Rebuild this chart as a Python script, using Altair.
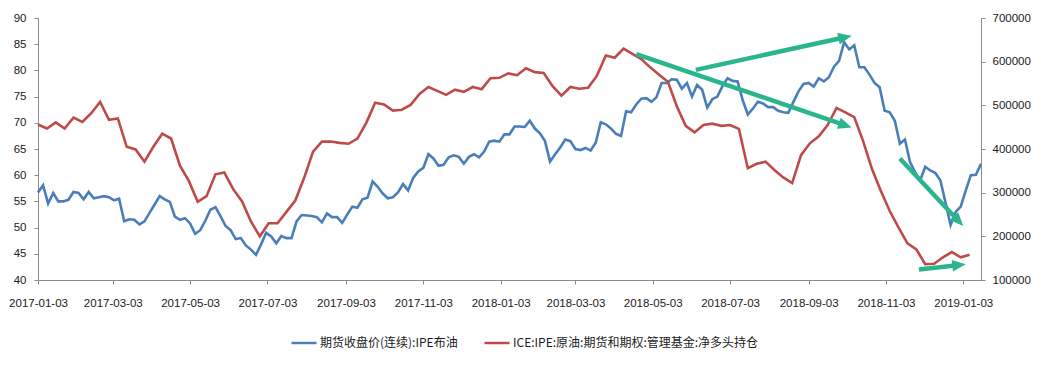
import math
import altair as alt
import pandas as pd

START = "2017-01-03"

# IPE Brent continuous futures close, sampled every 4 days from 2017-01-03
brent_price = [
    56.7, 58.1, 54.6, 56.6, 55.0, 55.0, 55.3, 56.8, 56.6, 55.4,
    56.8, 55.6, 55.8, 56.0, 55.8, 55.2, 55.5, 51.2, 51.6, 51.5,
    50.6, 51.2, 52.8, 54.4, 56.0, 55.4, 54.9, 52.1, 51.5, 51.8,
    50.8, 48.8, 49.5, 51.3, 53.4, 53.9, 52.2, 50.3, 49.5, 47.8,
    48.0, 46.6, 45.8, 44.8, 46.8, 49.0, 48.3, 47.0, 48.4, 48.0,
    48.0, 51.2, 52.4, 52.3, 52.2, 52.0, 51.0, 52.7, 52.0, 52.0,
    50.9, 52.5, 54.0, 53.8, 55.4, 55.7, 58.8, 57.8, 56.5, 55.6,
    55.8, 56.7, 58.3, 57.1, 59.5, 60.7, 61.4, 64.0, 63.2, 61.8,
    62.0, 63.4, 63.8, 63.5, 62.2, 63.5, 64.0, 63.4, 64.5, 66.4,
    66.6, 66.4, 67.8, 67.8, 69.3, 69.3, 69.2, 70.4, 68.9, 68.0,
    66.5, 62.6, 64.0, 65.3, 66.8, 66.5, 65.0, 64.8, 65.2, 64.7,
    66.2, 70.1, 69.7, 68.9, 67.9, 67.5, 72.2, 72.0, 73.5, 74.6,
    74.7, 74.0, 74.9, 77.6, 77.6, 78.3, 78.2, 76.5, 77.6, 75.0,
    77.2, 76.3, 72.9, 74.5, 75.0, 77.0, 78.5, 78.0, 77.9, 74.3,
    71.6, 72.7, 74.0, 73.7, 73.0, 73.0, 72.3, 72.0, 71.9, 74.0,
    76.0, 77.4, 77.6, 76.9, 78.5, 77.9, 78.7, 80.7, 81.8, 85.4,
    84.0, 84.8, 80.6, 80.6, 79.2, 77.6, 76.8, 72.3, 72.0, 70.4,
    66.0, 66.8, 62.5, 60.6, 59.0, 61.6, 60.9, 60.4, 59.0, 54.8,
    50.5, 53.0, 54.0, 57.1, 60.0, 60.1, 62.2,
]

# ICE IPE crude, managed money net long, weekly from 2017-01-03
net_long = [
    456000, 447000, 461000, 447000, 472000, 462000, 482000, 508000, 467000, 470000,
    405000, 399000, 371000, 405000, 435000, 424000, 362000, 327000, 279000, 292000,
    342000, 346000, 308000, 280000, 234000, 200000, 230000, 230000, 256000, 282000,
    334000, 394000, 417000, 417000, 414000, 412000, 424000, 460000, 506000, 502000,
    488000, 490000, 501000, 526000, 542000, 533000, 524000, 536000, 531000, 542000,
    537000, 562000, 563000, 573000, 569000, 585000, 576000, 574000, 544000, 522000,
    542000, 538000, 540000, 568000, 614000, 609000, 630000, 618000, 606000, 587000,
    570000, 554000, 498000, 453000, 438000, 455000, 458000, 453000, 455000, 446000,
    356000, 366000, 371000, 352000, 335000, 322000, 386000, 413000, 429000, 455000,
    494000, 484000, 473000, 418000, 354000, 304000, 258000, 220000, 184000, 170000,
    136000, 137000, 152000, 164000, 152000, 158000,
]

series_names = ["期货收盘价(连续):IPE布油", "ICE:IPE:原油:期货和期权:管理基金:净多头持仓"]
series_colors = ["#4A7EBB", "#BE4B48"]

tick_labels = [
    "2017-01-03", "2017-03-03", "2017-05-03", "2017-07-03", "2017-09-03",
    "2017-11-03", "2018-01-03", "2018-03-03", "2018-05-03", "2018-07-03",
    "2018-09-03", "2018-11-03", "2019-01-03",
]
left_ticks = [40, 45, 50, 55, 60, 65, 70, 75, 80, 85, 90]
right_ticks = [100000, 200000, 300000, 400000, 500000, 600000, 700000]

# annotation arrows (in left-axis units)
arrow_start_dates = ["2018-04-20", "2018-06-06", "2018-11-14", "2018-11-29"]
arrow_start_values = [83.1, 80.1, 63.2, 42.0]
arrow_end_dates = ["2018-10-07", "2018-10-07", "2019-01-03", "2019-01-05"]
arrow_end_values = [69.1, 86.6, 50.3, 43.0]
ARROW_COLOR = "#2BB58C"

W, H = 943, 262

brent_dates = pd.date_range(START, periods=len(brent_price), freq="4D")
pos_dates = pd.date_range(START, periods=len(net_long), freq="7D")

brent_df = pd.DataFrame({"date": brent_dates, "value": brent_price, "series": series_names[0]})
pos_df = pd.DataFrame({"date": pos_dates, "value": net_long, "series": series_names[1]})


def dt(s):
    t = pd.Timestamp(s)
    return alt.DateTime(year=t.year, month=t.month, date=t.day)


x_domain = [dt(brent_dates[0]), dt(brent_dates[-1])]
x_scale = alt.Scale(domain=x_domain, nice=False)
tick_values = [dt(s) for s in tick_labels]

left_domain = [left_ticks[0], left_ticks[-1]]
right_domain = [right_ticks[0], right_ticks[-1]]

# arrow geometry from the data and the scales
span_days = (brent_dates[-1] - brent_dates[0]).days
ppd = W / span_days
ppu = H / (left_domain[1] - left_domain[0])
rows = []
for sd, sv, ed, ev in zip(arrow_start_dates, arrow_start_values, arrow_end_dates, arrow_end_values):
    s = pd.Timestamp(sd)
    e = pd.Timestamp(ed)
    dx = (e - s).days * ppd
    dy = -(ev - sv) * ppu
    L = math.hypot(dx, dy)
    ux, uy = dx / L, dy / L
    ang = math.degrees(math.atan2(ux, -uy)) % 360
    back = 8
    rows.append({
        "s": s, "sv": sv,
        "le": e - pd.Timedelta(days=back * ux / ppd), "lev": ev + back * uy / ppu,
        "tip": e, "tipv": ev, "angle": ang,
    })
arrow_df = pd.DataFrame(rows)

axis_common = dict(
    labelFont="Liberation Sans", labelFontSize=11.5, labelColor="#1a1a1a",
    domainColor="#8C8C8C", tickColor="#8C8C8C", tickSize=4, grid=False, title=None,
)

color_scale = alt.Scale(domain=series_names, range=series_colors)

x_enc = alt.X(
    "date:T", scale=x_scale,
    axis=alt.Axis(values=tick_values, format="%Y-%m-%d", labelPadding=13,
                  labelOverlap=False, labelFlush=False, **axis_common),
)

blue = alt.Chart(brent_df).mark_line(strokeWidth=2.6).encode(
    x=x_enc,
    y=alt.Y("value:Q", scale=alt.Scale(domain=left_domain, nice=False, zero=False),
            axis=alt.Axis(values=left_ticks, orient="left", labelPadding=8, **axis_common)),
    color=alt.Color(
        "series:N", scale=color_scale,
        legend=alt.Legend(
            orient="none", legendX=252, legendY=311, direction="horizontal",
            title=None, symbolType="stroke", symbolSize=625, symbolStrokeWidth=2.5,
            labelFont="Noto Sans CJK SC", labelFontSize=12, labelColor="#1a1a1a",
            labelLimit=0, labelOffset=2, columnPadding=21, padding=0,
        ),
    ),
)

red = alt.Chart(pos_df).mark_line(strokeWidth=2.6).encode(
    x=alt.X("date:T", scale=x_scale),
    y=alt.Y("value:Q", scale=alt.Scale(domain=right_domain, nice=False, zero=False),
            axis=alt.Axis(values=right_ticks, orient="right", format="d", labelPadding=7,
                          **axis_common)),
    color=alt.Color("series:N", scale=color_scale),
)

arrow_lines = alt.Chart(arrow_df).mark_rule(strokeWidth=4.5, color=ARROW_COLOR, strokeCap="butt").encode(
    x=alt.X("s:T", scale=x_scale),
    x2="le:T",
    y=alt.Y("sv:Q", scale=alt.Scale(domain=left_domain, nice=False, zero=False), axis=None),
    y2="lev:Q",
)

arrow_heads = alt.Chart(arrow_df).mark_point(
    shape="M0,0 L-0.75,1.75 L0.75,1.75 Z", filled=True, size=240, opacity=1,
    color=ARROW_COLOR, strokeWidth=0,
).encode(
    x=alt.X("tip:T", scale=x_scale),
    y=alt.Y("tipv:Q", scale=alt.Scale(domain=left_domain, nice=False, zero=False), axis=None),
    angle=alt.Angle("angle:Q", scale=None),
)

chart = alt.layer(blue, red, arrow_lines, arrow_heads).resolve_scale(
    y="independent"
).properties(
    width=W, height=H,
    autosize=alt.AutoSizeParams(type="none"),
    padding={"left": 30, "top": 10, "right": 55, "bottom": 78},
    background="white",
).configure_view(stroke=None)

chart.save("out.html", embed_options={"renderer": "svg", "actions": False})
